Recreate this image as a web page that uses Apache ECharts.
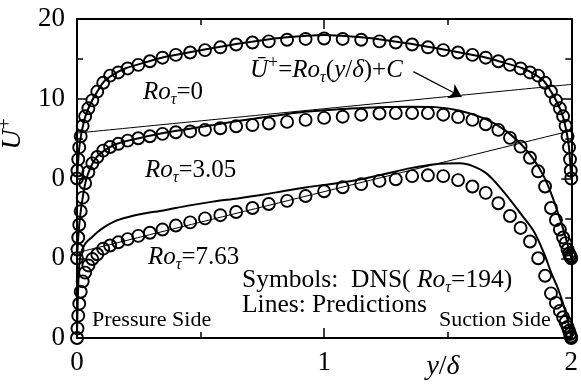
<!DOCTYPE html>
<html><head><meta charset="utf-8">
<script src="https://cdn.jsdelivr.net/npm/echarts@6/dist/echarts.min.js"></script>
<style>html,body{margin:0;padding:0;background:#fff}#c{width:581px;height:388px}</style>
</head><body><div id="c"></div>
<script>
// DNS grid positions (y/delta)
const dnsX = [0, 0.002, 0.005, 0.009, 0.015, 0.023, 0.033, 0.046, 0.062, 0.082, 0.106, 0.134, 0.167, 0.205, 0.248, 0.295, 0.346, 0.4, 0.458, 0.518, 0.58, 0.644, 0.71, 0.776, 0.85, 0.925, 1.0, 1.075, 1.15, 1.224, 1.29, 1.356, 1.42, 1.482, 1.542, 1.6, 1.654, 1.705, 1.752, 1.795, 1.833, 1.866, 1.894, 1.918, 1.938, 1.954, 1.967, 1.977, 1.985, 1.991, 1.995, 1.998, 2.0];
// DNS mean velocity U+ (unshifted)
const dnsRo0 = [0, 1.0, 2.4, 3.9, 5.3, 6.6, 7.8, 8.8, 9.8, 10.9, 12.0, 12.9, 13.3, 13.8, 14.25, 14.7, 15.15, 15.5, 15.8, 16.1, 16.45, 16.8, 17.05, 17.2, 17.4, 17.5, 17.55, 17.5, 17.4, 17.2, 17.05, 16.8, 16.45, 16.1, 15.8, 15.5, 15.15, 14.7, 14.25, 13.8, 13.3, 12.9, 12.0, 10.9, 9.8, 8.8, 7.8, 6.6, 5.3, 3.9, 2.4, 1.0, 0];
const dnsRo305 = [0, 1.1, 2.6, 4.2, 5.9, 7.6, 9.4, 10.8, 11.9, 12.7, 13.5, 13.95, 14.35, 14.75, 15.05, 15.3, 15.6, 15.8, 15.9, 16.1, 16.3, 16.55, 16.7, 16.9, 17.1, 17.35, 17.6, 17.75, 18.0, 18.15, 18.2, 18.2, 18.2, 18.0, 17.7, 17.35, 16.8, 16.1, 15.1, 14.0, 12.6, 10.9, 9.0, 6.3, 4.8, 3.6, 2.6, 1.9, 1.1, 0.6, 0.35, 0.15, 0];
const dnsRo763 = [0, 1.2, 2.8, 4.3, 5.8, 7.1, 8.2, 9.1, 9.9, 10.5, 11.2, 11.6, 12.0, 12.4, 12.8, 13.2, 13.6, 14.1, 14.5, 15.0, 15.4, 15.8, 16.3, 16.8, 17.2, 17.8, 18.4, 18.9, 19.3, 19.7, 19.9, 20.3, 20.4, 20.3, 19.8, 19.0, 18.2, 16.9, 15.3, 13.8, 12.1, 10.0, 7.8, 5.6, 4.4, 3.4, 2.6, 2.0, 1.4, 0.9, 0.5, 0.2, 0];
// Prediction curves
const predX = [0, 0.002, 0.005, 0.01, 0.02, 0.035, 0.055, 0.08, 0.11, 0.15, 0.2, 0.27, 0.35, 0.45, 0.55, 0.65, 0.75, 0.85, 0.93, 1.0, 1.07, 1.15, 1.25, 1.35, 1.45, 1.55, 1.65, 1.73, 1.8, 1.85, 1.89, 1.92, 1.945, 1.965, 1.98, 1.99, 1.995, 1.998, 2.0];
const predRo0 = [0, 1.0, 2.3, 4.1, 6.0, 7.9, 9.4, 10.8, 12.2, 13.1, 13.85, 14.5, 15.2, 15.8, 16.35, 16.9, 17.35, 17.7, 17.9, 18.0, 17.9, 17.7, 17.35, 16.9, 16.35, 15.8, 15.2, 14.5, 13.85, 13.1, 12.2, 10.8, 9.4, 7.9, 6.0, 4.1, 2.3, 1.0, 0];
const predRo305 = [0, 1.1, 2.6, 4.5, 7.0, 9.6, 11.4, 12.7, 13.5, 14.2, 14.7, 15.2, 15.7, 16.2, 16.7, 17.2, 17.65, 18.1, 18.4, 18.55, 18.7, 18.85, 18.95, 19.0, 18.95, 18.5, 17.5, 16.1, 14.2, 12.3, 10.2, 8.0, 5.8, 3.9, 2.3, 1.2, 0.6, 0.25, 0];
const predRo763 = [0, 3.5, 6.5, 9.5, 11.0, 11.9, 12.5, 13.2, 13.9, 14.6, 15.1, 15.6, 16.0, 16.6, 17.1, 17.5, 17.95, 18.5, 18.9, 19.2, 19.5, 19.9, 20.6, 21.3, 21.8, 21.9, 20.8, 18.2, 15.4, 13.3, 10.6, 8.1, 6.3, 4.5, 2.9, 1.7, 0.9, 0.4, 0];
// Reference lines U+ = Ro*(y/delta) + C (end points)
const linX = [0, 2];
const lin305 = [15.7, 21.8];
const lin763 = [10.7, 26.0];
// vertical shifts of the profiles
const shiftRo0 = 20, shiftRo305 = 10, shiftRo763 = 0;
// axis ticks
const yTickValues = [0, 10, 20, 30, 40];
const yTickLabels = ['0', '0', '0', '10', '20'];
const xTickValues = [0, 1, 2];
const xTickLabels = ['0', '1', '2'];
// annotation arrow (tail, head) in data coords
const arrowTail = [1.361, 33.4];
const arrowHead = [1.556, 30.26];

const pairs = (xs, ys, s) => xs.map((x, i) => [x, ys[i] + s]);
const FF = 'Liberation Serif';
const chart = echarts.init(document.getElementById('c'), null, {renderer: 'canvas'});

const axisCommon = {
  type: 'value',
  axisLine: {show: true, onZero: false, lineStyle: {color: '#000', width: 2}},
  axisTick: {show: true, inside: true, length: 10, lineStyle: {color: '#000', width: 1.5}},
  minorTick: {show: true, splitNumber: 2, length: 6, lineStyle: {color: '#000', width: 1.5}},
  splitLine: {show: false}
};
const tickRich = {t: {fontFamily: FF, fontSize: 27, color: '#000'}};

function richStyles(S) {
  return {
    it: {fontFamily: FF, fontStyle: 'italic', fontSize: S, lineHeight: S * 1.25},
    n: {fontFamily: FF, fontSize: S, lineHeight: S * 1.25},
    sub: {fontFamily: FF, fontStyle: 'italic', fontSize: Math.round(S * 0.64), lineHeight: S * 1.25, verticalAlign: 'bottom'},
    sup: {fontFamily: FF, fontSize: Math.round(S * 0.7), lineHeight: S * 1.25, verticalAlign: 'top'}
  };
}
function txt(x, y, text, S, align) {
  return {
    type: 'text', x: x, y: y, z: 100,
    style: {text: text, fill: '#000', fontFamily: FF, fontSize: S, rich: richStyles(S), align: align || 'left', verticalAlign: 'middle'}
  };
}

const lineSeries = (data, w) => ({type: 'line', data: data, showSymbol: false, symbol: 'none', smooth: 0.3,
  lineStyle: {color: '#000', width: w}, z: 3, silent: true});
const dotSeries = (data) => ({type: 'scatter', data: data, symbol: 'circle', symbolSize: 12,
  itemStyle: {color: 'rgba(0,0,0,0)', borderColor: '#000', borderWidth: 1.9, opacity: 1}, z: 4, silent: true});

chart.setOption({
  animation: false,
  backgroundColor: '#fff',
  grid: {left: 77, right: 7, top: 19, bottom: 50},
  xAxis: [
    Object.assign({}, axisCommon, {min: 0, max: 2, interval: 1, position: 'bottom',
      axisLabel: {color: '#000', fontFamily: FF, fontSize: 27, margin: 11, rich: tickRich,
        formatter: v => { const i = xTickValues.indexOf(v); return i >= 0 ? '{t|' + xTickLabels[i] + '}' : ''; }}}),
    Object.assign({}, axisCommon, {min: 0, max: 2, interval: 1, position: 'top', axisLabel: {show: false}})
  ],
  yAxis: [
    Object.assign({}, axisCommon, {min: 0, max: 40, interval: 10, position: 'left',
      axisLabel: {color: '#000', fontFamily: FF, fontSize: 27, margin: 12, rich: tickRich,
        formatter: v => { const i = yTickValues.indexOf(v); return i >= 0 ? '{t|' + yTickLabels[i] + '}' : ''; }}}),
    Object.assign({}, axisCommon, {min: 0, max: 40, interval: 10, position: 'right', axisLabel: {show: false}})
  ],
  series: [
    lineSeries(pairs(linX, lin305, shiftRo305), 1),
    Object.assign(lineSeries(pairs(linX, lin763, shiftRo763), 1), {
      markLine: {silent: true, symbol: ['none', 'arrow'], symbolSize: 12, label: {show: false},
        lineStyle: {color: '#000', width: 1.2, type: 'solid'},
        data: [[{coord: arrowTail}, {coord: arrowHead}]]}
    }),
    lineSeries(pairs(predX, predRo0, shiftRo0), 2),
    lineSeries(pairs(predX, predRo305, shiftRo305), 2),
    lineSeries(pairs(predX, predRo763, shiftRo763), 2),
    dotSeries(pairs(dnsX, dnsRo0, shiftRo0)),
    dotSeries(pairs(dnsX, dnsRo305, shiftRo305)),
    dotSeries(pairs(dnsX, dnsRo763, shiftRo763))
  ],
  graphic: [
    txt(143, 92, '{it|Ro}{sub|τ}{n|=0}', 25),
    txt(145, 170, '{it|Ro}{sub|τ}{n|=3.05}', 25),
    txt(148, 257, '{it|Ro}{sub|τ}{n|=7.63}', 25),
    txt(250, 70, '{it|Ū}{sup|+}{n|=}{it|Ro}{sub|τ}{n|(}{it|y}{n|/}{it|δ}{n|)+}{it|C}', 25),
    txt(242, 280, '{n|Symbols:  DNS( }{it|Ro}{sub|τ}{n|=194)}', 25.5),
    txt(242, 305, '{n|Lines: Predictions}', 25.5),
    txt(92, 320, '{n|Pressure Side}', 22),
    txt(439, 320, '{n|Suction Side}', 22),
    txt(443, 367, '{it|y}{n|/}{it|δ}', 28, 'center'),
    {type: 'text', x: 13, y: 134, rotation: Math.PI / 2, z: 100,
      style: {text: '{it|Ū}{sup|+}', fill: '#000', fontFamily: FF, fontSize: 28, rich: richStyles(28), align: 'center', verticalAlign: 'middle'}}
  ]
});
</script>
</body></html>
